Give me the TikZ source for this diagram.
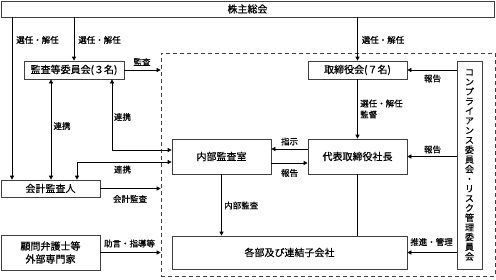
\documentclass[tikz,border=0pt]{standalone}
\usepackage{fontspec}
\setmainfont{Noto Sans CJK JP}[FakeBold=0.6]
\usetikzlibrary{arrows.meta,calc}
\begin{document}
\begin{tikzpicture}[x=1pt,y=-1pt,
  box/.style={draw=black!75, line width=0.7pt, inner sep=0pt, align=center, font=\fontsize{10}{12}\selectfont},
  lbl/.style={inner sep=0pt, align=left, font=\fontsize{8.5}{11}\selectfont},
  arr/.style={-{Triangle[length=4pt,width=4pt]}, line width=0.7pt},
  dbl/.style={{Triangle[length=4pt,width=4pt]}-{Triangle[length=4pt,width=4pt]}, line width=0.7pt},
  plain/.style={line width=0.7pt}]
\useasboundingbox (0,0) rectangle (496,279);
% dashed group
\node[draw=black!75, dash pattern=on 4pt off 3pt, line width=0.7pt, minimum width=334pt, minimum height=223pt, inner sep=0pt] (grp) at (328,164.5) {};
% boxes
\node[box, minimum width=493pt, minimum height=16pt] (top) at (247.5,9) {株主総会};
\node[box, minimum width=100pt, minimum height=18pt] (kansa) at (74,70) {監査等委員会(３名)};
\node[box, minimum width=99pt, minimum height=17pt] (kaikei) at (50.5,188.5) {会計監査人};
\node[box, minimum width=99pt, minimum height=35pt, font=\fontsize{10}{13}\selectfont] (komon) at (50.5,252.5) {顧問弁護士等\\外部専門家};
\node[box, minimum width=99pt, minimum height=18pt] (tori) at (357.5,70) {取締役会(７名)};
\node[box, minimum width=99pt, minimum height=35pt] (shacho) at (357.5,156.5) {代表取締役社長};
\node[box, minimum width=99pt, minimum height=35pt] (naibu) at (221.5,156.5) {内部監査室};
\node[box, minimum width=235pt, minimum height=33pt] (kakubu) at (289.5,252.5) {各部及び連結子会社};
\node[box, minimum width=25pt, minimum height=208pt, font=\fontsize{9}{9.7}\selectfont] (comp) at (469.5,165)
  {コ\\ン\\プ\\ラ\\イ\\ア\\ン\\ス\\委\\員\\会\\・\\リ\\ス\\ク\\管\\理\\委\\員\\会};
% helper coordinates
\coordinate (xa) at (12,0);
\coordinate (xb) at (51,0);
\coordinate (xc) at (112,0);
\coordinate (xd) at (77,0);
\coordinate (ya) at (0,150);
\coordinate (yb) at (0,162);
\coordinate (yc) at (0,149);
\coordinate (yd) at (0,163);
% shareholders
\draw[arr] (xa |- top.south) -- (xa |- kaikei.north);
\draw[arr] (kansa.north |- top.south) -- (kansa.north);
\draw[arr] (tori.north |- top.south) -- (tori.north);
\node[lbl] (l1) at (37.5,40) {選任・解任};
\node[lbl] (l2) at (99.5,40) {選任・解任};
\node[lbl] (l3) at (383,40) {選任・解任};
% audit committee
\draw[arr] (kansa.east) -- (kansa.east -| grp.west);
\node[lbl] (l4) at (142,62) {監査};
\draw[dbl] (xb |- kansa.south) -- (xb |- kaikei.north);
\node[lbl] (l5) at (62,126) {連携};
\draw[dbl] (xc |- kansa.south) |- (naibu.west |- ya);
\node[lbl] (l6) at (122.5,117) {連携};
\draw[dbl] (xd |- kaikei.north) |- (naibu.west |- yb);
\node[lbl] (l7) at (122.5,169.5) {連携};
% accounting auditor
\draw[arr] (kaikei.east) -- (kaikei.east -| grp.west);
\node[lbl] (l8) at (130,199) {会計監査};
% advisers
\draw[arr] (komon.east) -- (komon.east -| grp.west);
\node[lbl] (l9) at (129.5,243.5) {助言・指導等};
% board
\draw[arr] (tori.south) -- (shacho.north);
\node[lbl, anchor=west] (l10) at (360,109) {選任・解任\\監督};
% compliance
\draw[arr] (comp.west |- tori.east) -- (tori.east);
\node[lbl] (l11) at (432.5,78.5) {報告};
\draw[arr] (comp.west |- shacho.east) -- (shacho.east);
\node[lbl] (l12) at (432.5,149.5) {報告};
\draw[arr] (comp.west |- kakubu.east) -- (kakubu.east);
\node[lbl] (l13) at (431.5,242) {推進・管理};
% president / internal audit
\draw[arr] (shacho.west |- yc) -- (naibu.east |- yc);
\node[lbl] (l14) at (289.5,141.5) {指示};
\draw[arr] (naibu.east |- yd) -- (shacho.west |- yd);
\node[lbl] (l15) at (289.5,173) {報告};
\draw[plain] (shacho.south) -- (shacho.south |- kakubu.north);
\draw[arr] (naibu.south) -- (naibu.south |- kakubu.north);
\node[lbl, anchor=west] (l16) at (224,205.5) {内部監査};
\end{tikzpicture}
\end{document}
